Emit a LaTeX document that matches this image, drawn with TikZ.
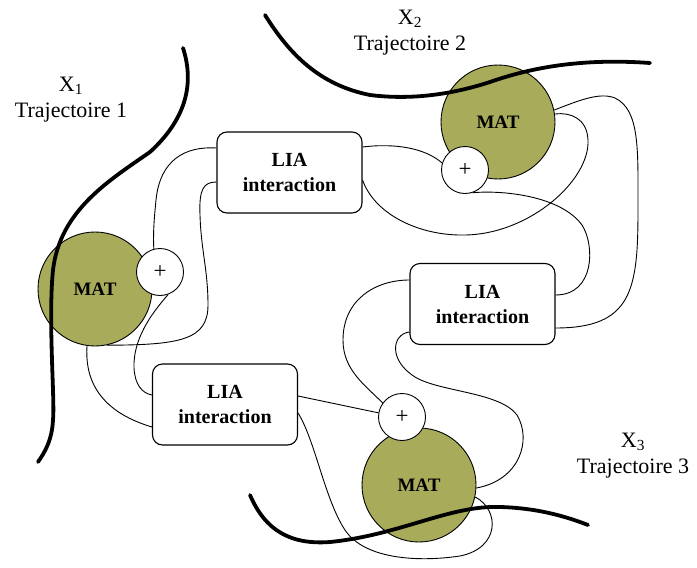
\documentclass[tikz,border=0pt]{standalone}
\usepackage{fontspec}
\setmainfont{Liberation Serif}
\definecolor{matfill}{RGB}{168,172,90}
\begin{document}
\begin{tikzpicture}[x=1pt,y=-1pt,
  matc/.style={circle,draw=black,line width=0.9pt,fill=matfill,minimum size=114pt,inner sep=0pt,font=\fontsize{19}{22}\selectfont\bfseries},
  plusc/.style={circle,draw=black,line width=0.9pt,fill=white,minimum size=47pt,inner sep=0pt,font=\fontsize{23}{26}\selectfont},
  liabox/.style={rectangle,rounded corners=10pt,draw=black,line width=1.1pt,fill=white,minimum width=145pt,minimum height=81pt,inner sep=0pt,align=center,font=\fontsize{20}{25}\selectfont\bfseries},
  conn/.style={draw=black,line width=0.9pt},
  traj/.style={draw=black,line width=3.8pt,line cap=round},
  lbl/.style={align=center,font=\fontsize{22}{26}\selectfont,inner sep=0pt}]
\useasboundingbox (0,0) rectangle (697,568);
\fill[white] (0,0) rectangle (697,568);

% nodes
\node[matc] (mat1) at (95,289) {MAT};
\node[matc] (mat2) at (498,122) {MAT};
\node[matc] (mat3) at (419,485) {MAT};
\node[plusc] (plus1) at (160,272) {+};
\node[plusc] (plus2) at (465,170) {+};
\node[plusc] (plus3) at (402,417) {+};
\node[liabox] (lia1) at (289.5,172.5) {LIA\\interaction};
\node[liabox] (lia2) at (482.5,304) {LIA\\interaction};
\node[liabox] (lia3) at (225,404.5) {LIA\\interaction};

% connectors
\draw[conn] ([yshift=24.5pt]lia1.west) .. controls (185,146) and (160,160) .. (156,200)
  .. controls (154,220) and (153,235) .. (plus1.105);
\draw[conn] ([yshift=-9.5pt]lia1.west) .. controls (203,182) and (199,190) .. (200,215)
  .. controls (201,250) and (208,270) .. (208,305)
  .. controls (208,340) and (180,345) .. (mat1.-78);
\draw[conn] (plus1.-70) .. controls (150,315) and (133,340) .. (134,368)
  .. controls (135,385) and (142,393) .. ([yshift=9.5pt]lia3.west);
\draw[conn] (mat1.-98) .. controls (85,375) and (95,410) .. ([yshift=-22.5pt]lia3.west);
\draw[conn] ([yshift=8.5pt]lia3.east) -- (plus3.170);
\draw[conn] ([yshift=-8.5pt]lia3.east) .. controls (315,440) and (325,500) .. (345,530)
  .. controls (365,560) and (420,562) .. (460,556)
  .. controls (500,548) and (500,510) .. (mat3.-12);
\draw[conn] ([yshift=24pt]lia2.west) .. controls (375,280) and (343,300) .. (343,340)
  .. controls (343,370) and (365,385) .. (plus3.144);
\draw[conn] ([yshift=-28pt]lia2.west) .. controls (392,334) and (388,360) .. (415,377)
  .. controls (440,392) and (500,392) .. (517,415)
  .. controls (532,440) and (520,480) .. (mat3.-3);
\draw[conn] ([yshift=25.5pt]lia1.east) .. controls (395,143) and (425,148) .. (plus2.163);
\draw[conn] ([yshift=-7.5pt]lia1.east) .. controls (375,215) and (420,236) .. (465,235)
  .. controls (530,234) and (590,180) .. (588,140)
  .. controls (587,118) and (570,112) .. (mat2.8);
\draw[conn] (mat2.12) .. controls (580,100) and (600,92) .. (615,98)
  .. controls (640,110) and (638,150) .. (638,210)
  .. controls (638,290) and (632,328) .. ([yshift=-24pt]lia2.east);
\draw[conn] (plus2.-72) .. controls (500,190) and (560,195) .. (582,225)
  .. controls (595,245) and (595,295) .. ([yshift=9pt]lia2.east);

% trajectories
\draw[traj] (183,48) .. controls (195,85) and (185,120) .. (150,152)
  .. controls (110,180) and (60,210) .. (53,270)
  .. controls (48,320) and (55,400) .. (53,420)
  .. controls (52,440) and (45,452) .. (38,462);
\draw[traj] (265,15) .. controls (290,55) and (320,85) .. (370,95)
  .. controls (410,100) and (450,95) .. (490,82)
  .. controls (530,68) and (580,58) .. (650,63);
\draw[traj] (250,495) .. controls (265,530) and (290,545) .. (330,542)
  .. controls (400,535) and (450,505) .. (500,507)
  .. controls (540,508) and (570,518) .. (588,525);

% labels
\node[lbl] (l1) at (71,100) {X\textsubscript{1}\\Trajectoire 1};
\node[lbl] (l2) at (410,33) {X\textsubscript{2}\\Trajectoire 2};
\node[lbl] (l3) at (633,456) {X\textsubscript{3}\\Trajectoire 3};
\end{tikzpicture}
\end{document}
